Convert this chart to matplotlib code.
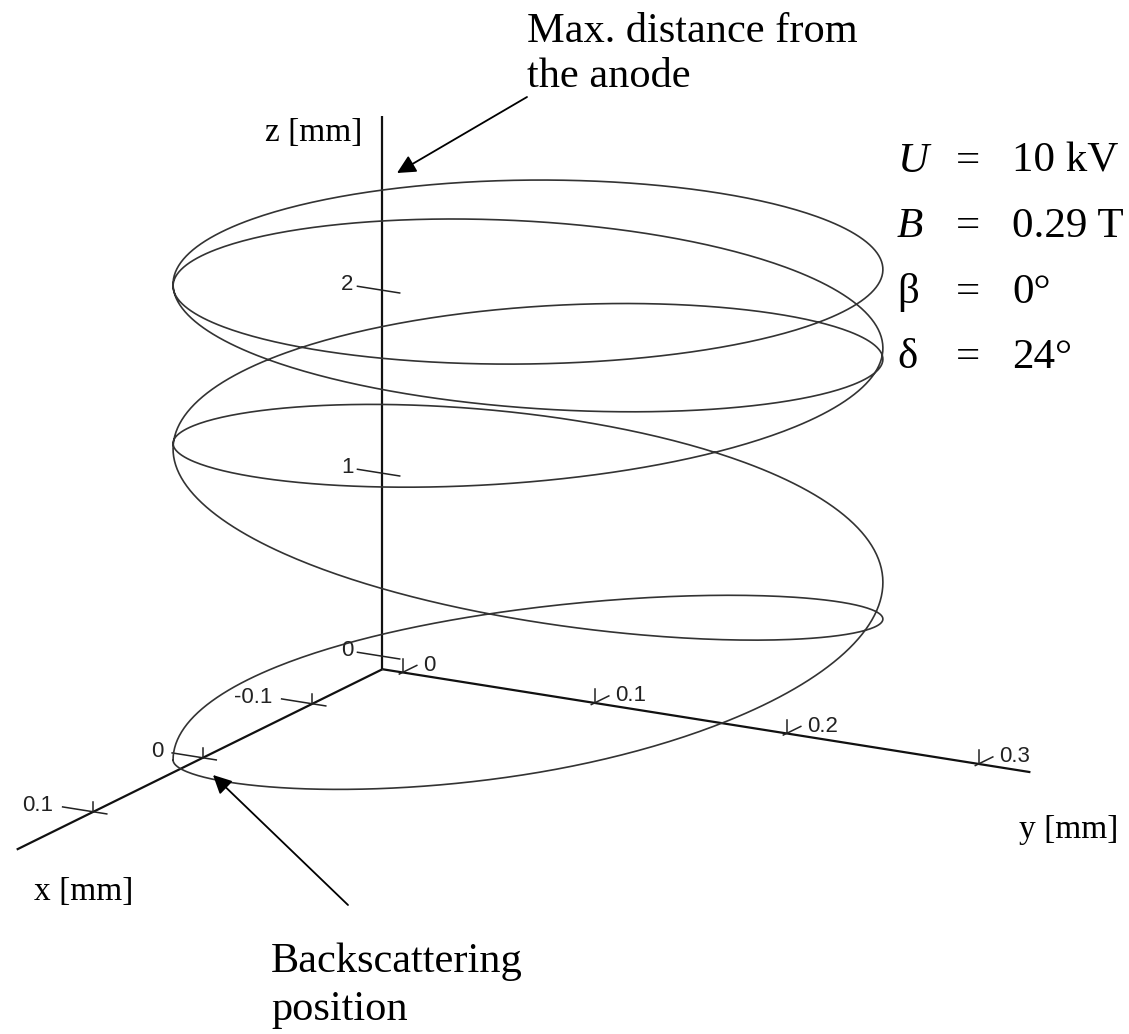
import numpy as np
import matplotlib.pyplot as plt

plt.rcParams['font.family'] = ['Liberation Serif', 'DejaVu Serif']

# 3-D box limits [mm]
x_lim = (-0.164, 0.17)
y_lim = (-0.0105, 0.327)
z_lim = (-0.071, 2.95)

x_ticks = [-0.1, 0.0, 0.1]
x_tick_labels = ['-0.1', '0', '0.1']
y_ticks = [0.0, 0.1, 0.2, 0.3]
y_tick_labels = ['0', '0.1', '0.2', '0.3']
z_ticks = [0, 1, 2]
z_tick_labels = ['0', '1', '2']

# gyration orbit in the x-y plane [mm]: centre and two conjugate semi-axes
orbit_center = (-0.0511, 0.1297)
orbit_axis_1 = (-0.0790, 0.1398)
orbit_axis_2 = (0.1275, 0.0727)

# distance from the anode along the orbit (phase in half turns) [mm]
phase_half_turns = [0, 0.5, 1, 2, 3, 4, 5, 6, 7, 8, 9, 9.5, 10]
z_along_orbit = [0.0, 0.42, 0.97, 1.73, 2.25, 2.59, 2.68, 2.60, 2.19, 1.70, 0.77, 0.33, 0.0]

params = [('U', '10 kV', 'italic'), ('B', '0.29 T', 'italic'),
          ('β', '0°', 'normal'), ('δ', '24°', 'normal')]

# oblique view: page position of the data origin and page offset per mm
view_origin = np.array([223.0, 748.0])
view_x = np.array([-1095.0, 540.0])
view_y = np.array([1920.0, 305.0])
view_z = np.array([0.0, -183.0])


def project(x, y, z):
    x, y, z = np.broadcast_arrays(np.asarray(x, float), np.asarray(y, float), np.asarray(z, float))
    px = view_origin[0] + view_x[0] * x + view_y[0] * y + view_z[0] * z
    py = view_origin[1] + view_x[1] * x + view_y[1] * y + view_z[1] * z
    return px, py


def smooth(tk, vk, t):
    # piecewise cubic Hermite curve through the samples
    tk = np.asarray(tk, float)
    vk = np.asarray(vk, float)
    m = np.gradient(vk, tk)
    i = np.clip(np.searchsorted(tk, t) - 1, 0, len(tk) - 2)
    h = tk[i + 1] - tk[i]
    s = (t - tk[i]) / h
    return ((2 * s**3 - 3 * s**2 + 1) * vk[i] + (s**3 - 2 * s**2 + s) * h * m[i]
            + (-2 * s**3 + 3 * s**2) * vk[i + 1] + (s**3 - s**2) * h * m[i + 1])


fig = plt.figure(figsize=(11.29, 10.34), dpi=100)
ax = fig.add_axes([0, 0, 1, 1])
ax.set_xlim(0, 1129)
ax.set_ylim(1034, 0)
ax.axis('off')

axis_kw = dict(color='#111111', lw=1.6, solid_capstyle='butt')
tick_kw = dict(color='#222222', lw=1.1)
tick_font = dict(family=['Liberation Sans Narrow', 'Liberation Sans'], fontsize=16, color='#222222')

x0, y0, z0 = x_lim[0], y_lim[0], z_lim[0]

# axes
ax.plot(*project([x0, x_lim[1]], y0, z0), **axis_kw)
ax.plot(*project(x0, [y0, y_lim[1]], z0), **axis_kw)
ax.plot(*project(x0, y0, [z0, z_lim[1]]), **axis_kw)

# z ticks
for zt, lab in zip(z_ticks, z_tick_labels):
    ax.plot(*project(x0, [y0 - 0.013, y0 + 0.009], zt), **tick_kw)
    px, py = project(x0, y0 - 0.013, zt)
    ax.text(px - 4, py - 2, lab, ha='right', va='center', **tick_font)

# x ticks
for xt, lab in zip(x_ticks, x_tick_labels):
    ax.plot(*project(xt, [y0 - 0.016, y0 + 0.007], z0), **tick_kw)
    ax.plot(*project(xt, y0, [z0, z0 + 0.055]), **tick_kw)
    px, py = project(xt, y0 - 0.016, z0)
    ax.text(px - 9, py - 1, lab, ha='right', va='center', **tick_font)

# y ticks
for yt, lab in zip(y_ticks, y_tick_labels):
    ax.plot(*project(x0, yt, [z0, z0 + 0.075]), **tick_kw)
    ax.plot(*project([x0 + 0.003, x0 - 0.013], yt, z0), **tick_kw)
    px, py = project(x0, yt, z0)
    ax.text(px + 21, py - 7, lab, ha='left', va='center', **tick_font)

# electron trajectory: starts at the backscattering point, five turns
t = np.linspace(0, phase_half_turns[-1], 2000)
ang = np.pi - np.pi * t
xs = orbit_center[0] + orbit_axis_1[0] * np.cos(ang) + orbit_axis_2[0] * np.sin(ang)
ys = orbit_center[1] + orbit_axis_1[1] * np.cos(ang) + orbit_axis_2[1] * np.sin(ang)
zs = smooth(phase_half_turns, z_along_orbit, t)
ax.plot(*project(xs, ys, zs), color='#333333', lw=1.2)

# axis titles
ax.text(265, 141, 'z [mm]', fontsize=24, ha='left', va='baseline')
ax.text(34, 900, 'x [mm]', fontsize=24, ha='left', va='baseline')
ax.text(1118, 838, 'y [mm]', fontsize=24, ha='right', va='baseline')

# annotations
arrow = dict(arrowstyle='-|>', color='black', lw=1.3, mutation_scale=28, shrinkA=0, shrinkB=0)
ax.text(527, 42, 'Max. distance from', fontsize=30.5, ha='left', va='baseline')
ax.text(527, 87, 'the anode', fontsize=30.5, ha='left', va='baseline')
ax.annotate('', xy=(397, 173), xytext=(527, 97), arrowprops=arrow)

ax.text(271, 972, 'Backscattering', fontsize=30.5, ha='left', va='baseline')
ax.text(271, 1020, 'position', fontsize=30.5, ha='left', va='baseline')
ax.annotate('', xy=(213, 775), xytext=(348, 905), arrowprops=arrow)

# operating parameters
for k, (sym, val, style) in enumerate(params):
    yb = 172 + 65.3 * k
    ax.text(897, yb, sym, fontsize=31, style=style, ha='left', va='baseline')
    ax.text(968, yb, '=', fontsize=31, ha='center', va='baseline')
    ax.text(1012, yb, val, fontsize=31, ha='left', va='baseline')

fig.savefig('out.png', dpi=100, facecolor='white')
